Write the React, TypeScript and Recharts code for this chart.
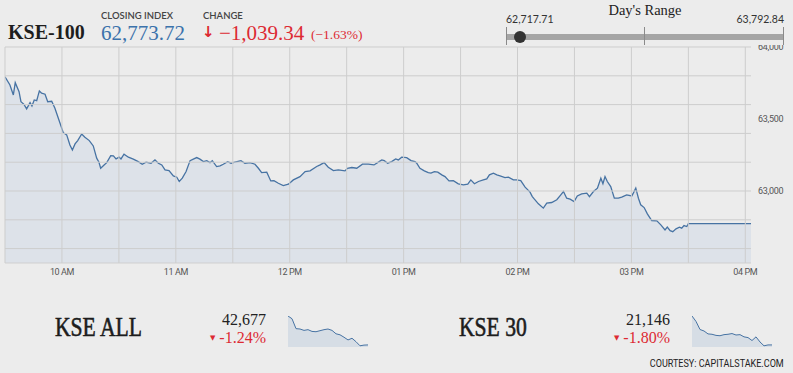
import { AreaChart, Area, XAxis, YAxis, ReferenceLine } from 'recharts';

// KSE-100 intraday, minutes after midnight
const times = [
  570, 572.6, 574.4, 575.4, 577.4, 578.4, 580, 581.4, 583.2, 584.2, 585.4, 586.7, 588.1, 589.3, 591.1, 592.5,
  594.6, 596.3, 598.1, 600.7, 602.5, 604.2, 605.5, 606.9, 608.3, 610.4, 612.1, 614.4, 616.5, 618.3, 619.5,
  620.4, 622.2, 623.6, 625.7, 627.1, 628.5, 630.1, 631.1, 632.7, 635, 637.6, 640.2, 642.3, 644.3, 646.9, 649,
  650.8, 652.6, 654.3, 656.4, 658.7, 660.5, 661.8, 663.4, 665.4, 667.5, 669.2, 671, 672.7, 674.5, 676.3, 678,
  679.2, 681.5, 683.3, 685, 687.3, 689.1, 691.1, 694.3, 696.4, 699.1, 701.7, 703.5, 705.2, 707.9, 710, 711.7,
  714, 716.6, 719.3, 721.9, 725.4, 728.1, 730.7, 734.2, 736, 738.1, 740.3, 743, 745.6, 749.1, 750.4, 752.7,
  755.3, 758.3, 761.4, 764.4, 767.1, 768.5, 769.8, 771.6, 773.7, 775.8, 777.2, 779, 781.6, 783.9, 786, 786.9,
  788.6, 790.9, 793, 794.4, 796.2, 798, 800.1, 801.8, 803.9, 806.2, 808.8, 811.5, 813.8, 815.4, 817.3, 819.4,
  822, 823.8, 825.2, 827.3, 829.1, 830.8, 833.4, 835.2, 837.8, 839.6, 841.7, 844, 846.6, 847.8, 848.9, 851,
  853.6, 855.4, 858, 860.7, 862.8, 864.2, 865.9, 867.7, 869.8, 871.5, 873.8, 876.5, 877.9, 880, 882.1, 883.9,
  885, 886.1, 887.3, 889.1, 891, 893.1, 894.9, 897.5, 900.2, 901, 902.3, 903.7, 904.9, 906.7, 908.4, 910.7,
  913.4, 915.5, 917.7, 918.9, 920.4, 921.8, 923.5, 925.3, 926.5, 927.7, 929.2, 930, 963,
];
const kse100 = [
  63792.84, 63736, 63667, 63752, 63690, 63620, 63602, 63570, 63614, 63591, 63632, 63627, 63695, 63679, 63672, 63620,
  63623, 63575, 63505, 63405, 63390, 63320, 63285, 63327, 63350, 63396, 63374, 63350, 63313, 63228, 63200,
  63158, 63181, 63197, 63246, 63244, 63223, 63235, 63223, 63256, 63235, 63221, 63204, 63186, 63200, 63193, 63216,
  63193, 63181, 63147, 63142, 63105, 63096, 63066, 63089, 63135, 63211, 63221, 63232, 63221, 63204, 63211, 63197,
  63211, 63170, 63174, 63186, 63204, 63193, 63200, 63211, 63193, 63197, 63186, 63158, 63128, 63131, 63070, 63072,
  63054, 63038, 63047, 63077, 63100, 63135, 63140, 63170, 63181, 63197, 63165, 63142, 63147, 63140, 63158, 63163,
  63158, 63186, 63186, 63181, 63204, 63216, 63211, 63193, 63204, 63223, 63216, 63235, 63232, 63211, 63204, 63193,
  63158, 63140, 63128, 63124, 63135, 63131, 63112, 63100, 63070, 63072, 63050, 63043, 63047, 63077, 63050, 63066,
  63077, 63084, 63112, 63124, 63112, 63105, 63093, 63096, 63077, 63077, 63072, 63027, 62992, 62961, 62943, 62911,
  62881, 62916, 62920, 62939, 62973, 62996, 62950, 62943, 62927, 62966, 62980, 62985, 62961, 62996, 63020, 63089,
  63050, 63100, 63066, 63031, 62950, 62950, 62957, 62973, 62966, 62985, 63020, 62950, 62904, 62885, 62841, 62795,
  62793, 62765, 62730, 62749, 62725, 62717.71, 62737, 62749, 62742, 62760, 62753, 62773.72, 62773.72,
];

const hourTicks = [600, 660, 720, 780, 840, 900, 960];
const halfHourGrid = [570, 600, 630, 660, 690, 720, 750, 780, 810, 840, 870, 900, 930, 960];
const priceTicks = [63000, 63500, 64000];
const priceGrid = [62600, 62800, 63000, 63200, 63400, 63600, 63800, 64000];

const closingIndex = 62773.72;
const change = -1039.34;
const changePct = -1.63;
const dayLow = 62717.71;
const dayHigh = 63792.84;

// sparklines (shape only)
const kseAllSpark = [43213, 43160, 42967, 42960, 42933, 42947, 42913, 42907, 42927, 42947, 42960, 42933, 42867, 42847, 42800, 42747, 42780, 42713, 42633, 42647, 42650];
const kse30Spark = [21534, 21460, 21350, 21330, 21290, 21285, 21270, 21265, 21280, 21285, 21295, 21275, 21280, 21250, 21240, 21200, 21250, 21180, 21128, 21140, 21140];

const mainData = times.map((t, i) => ({ t, v: kse100[i] }));

const fmt = (n: number, d = 0) =>
  n.toLocaleString('en-US', { minimumFractionDigits: d, maximumFractionDigits: d });

function hourLabel(t: number) {
  const h = Math.floor(t / 60);
  const h12 = h > 12 ? h - 12 : h;
  return `${String(h12).padStart(2, '0')} ${h >= 12 ? 'PM' : 'AM'}`;
}

const serif = '"Liberation Serif", "DejaVu Serif", serif';
const sans = 'Lato, "Noto Sans", sans-serif';
const red = '#dd2a33';
const blue = '#3b72ab';
const lineColor = '#4773a3';
const gridColor = '#cdcdcd';

function Spark({ values }: { values: number[] }) {
  const data = values.map((v, i) => ({ i, v }));
  return (
    <AreaChart width={80} height={31} data={data} margin={{ top: 0, right: 0, bottom: 0, left: 0 }}>
      <XAxis dataKey="i" type="number" domain={['dataMin', 'dataMax']} hide />
      <YAxis domain={[(m: number) => m - (values[0] - m) * 0.04, 'dataMax']} hide />
      <Area
        dataKey="v"
        type="linear"
        stroke={lineColor}
        strokeWidth={1}
        fill="#d6dde5"
        fillOpacity={1}
        isAnimationActive={false}
      />
    </AreaChart>
  );
}

function Stat({ name, value, pct, values, left }: { name: string; value: number; pct: number; values: number[]; left: number }) {
  return (
    <>
      <div
        style={{
          position: 'absolute', left: left, top: 312, fontFamily: serif, fontSize: 27, color: '#1d1d1d',
          transform: 'scaleX(0.8)', transformOrigin: 'left', whiteSpace: 'nowrap',
          WebkitTextStroke: '0.6px #1d1d1d',
        }}
      >
        {name}
      </div>
      <div style={{ position: 'absolute', left: left + 150, width: 61, top: 311, textAlign: 'right', fontFamily: serif, fontSize: 16, color: '#222' }}>
        {fmt(value)}
      </div>
      <div style={{ position: 'absolute', left: left + 150, width: 61, top: 329, textAlign: 'right', fontFamily: serif, fontSize: 16, color: red }}>
        {pct.toFixed(2)}%
      </div>
      <div style={{ position: 'absolute', left: left + 155, top: 334, fontSize: 7, color: red, fontFamily: 'DejaVu Sans' }}>▼</div>
      <div style={{ position: 'absolute', left: left + 233, top: 316 }}>
        <Spark values={values} />
      </div>
    </>
  );
}

export default function App() {
  const dotLeft = 506 + ((closingIndex - dayLow) / (dayHigh - dayLow)) * 278;
  return (
    <div style={{ position: 'absolute', left: 0, top: 0, width: 793, height: 373, background: '#ececec', overflow: 'hidden' }}>
      <div style={{ position: 'absolute', left: 0, top: 0 }}>
        <AreaChart width={793} height={290} data={mainData} margin={{ top: 47, right: 0, bottom: 0, left: 5 }}>
          <XAxis
            dataKey="t"
            type="number"
            domain={[570, 963]}
            allowDataOverflow
            ticks={hourTicks}
            tickFormatter={hourLabel}
            tickLine={false}
            tickSize={4}
            tickMargin={2}
            height={27}
            axisLine={{ stroke: '#cfcfcf' }}
            tick={{ fontSize: 9, fill: '#555', fontFamily: 'Roboto', letterSpacing: -0.4 }}
          />
          <YAxis
            orientation="right"
            type="number"
            domain={[62500, 64000]}
            allowDataOverflow
            ticks={priceTicks}
            tickFormatter={(v) => fmt(Number(v))}
            tickLine={false}
            axisLine={false}
            tickSize={0}
            tickMargin={7}
            width={42}
            tick={{ fontSize: 9, fill: '#555', fontFamily: 'Roboto', letterSpacing: -0.3, textAnchor: 'start' }}
          />
          {halfHourGrid.map((t) => (
            <ReferenceLine key={`x${t}`} x={t} stroke={gridColor} strokeWidth={1} />
          ))}
          {priceGrid.map((p) => (
            <ReferenceLine key={`y${p}`} y={p} stroke={gridColor} strokeWidth={1} />
          ))}
          <Area
            dataKey="v"
            type="linear"
            stroke={lineColor}
            strokeWidth={1.3}
            fill="#cbd8e6"
            fillOpacity={0.45}
            isAnimationActive={false}
          />
        </AreaChart>
      </div>

      {/* header */}
      <div style={{ position: 'absolute', left: 0, top: 0, width: 793, height: 45, background: '#ececec' }} />
      <div style={{ position: 'absolute', left: 8, top: 21, fontFamily: serif, fontWeight: 'bold', fontSize: 20, color: '#1d1d1d' }}>
        KSE-100
      </div>
      <div style={{ position: 'absolute', left: 101, top: 10, fontFamily: sans, fontSize: 9.5, color: '#444', fontWeight: 600 }}>
        CLOSING INDEX
      </div>
      <div style={{ position: 'absolute', left: 101, top: 21, fontFamily: serif, fontSize: 21, color: blue }}>
        {fmt(closingIndex, 2)}
      </div>
      <div style={{ position: 'absolute', left: 203, top: 10, fontFamily: sans, fontSize: 9.5, color: '#444', fontWeight: 600 }}>
        CHANGE
      </div>
      <div style={{ position: 'absolute', left: 202, top: 23, fontFamily: 'DejaVu Sans', fontWeight: 'bold', fontSize: 15, color: red }}>
        ↓
      </div>
      <div style={{ position: 'absolute', left: 219, top: 21, fontFamily: serif, fontSize: 21, color: red, whiteSpace: 'nowrap' }}>
        −{fmt(Math.abs(change), 2)}
      </div>
      <div style={{ position: 'absolute', left: 311, top: 27, fontFamily: serif, fontSize: 13.5, color: red, whiteSpace: 'nowrap' }}>
        (−{Math.abs(changePct).toFixed(2)}%)
      </div>

      {/* day's range */}
      <div style={{ position: 'absolute', left: 545, width: 200, top: 2, textAlign: 'center', fontFamily: serif, fontSize: 14.5, color: '#222' }}>
        Day's Range
      </div>
      <div style={{ position: 'absolute', left: 506, top: 13, fontFamily: sans, fontSize: 10.5, color: '#333' }}>
        {fmt(dayLow, 2)}
      </div>
      <div style={{ position: 'absolute', right: 9, top: 13, fontFamily: sans, fontSize: 10.5, color: '#333' }}>
        {fmt(dayHigh, 2)}
      </div>
      <div style={{ position: 'absolute', left: 506, top: 34, width: 278, height: 6, background: '#a5a5a5' }} />
      <div style={{ position: 'absolute', left: 506, top: 27, width: 1, height: 18, background: '#8a8a8a' }} />
      <div style={{ position: 'absolute', left: 644, top: 27, width: 1, height: 18, background: '#8a8a8a' }} />
      <div style={{ position: 'absolute', left: 783, top: 27, width: 1, height: 18, background: '#8a8a8a' }} />
      <div
        style={{
          position: 'absolute', left: dotLeft - 6, top: 31, width: 12, height: 12, borderRadius: 6, background: '#333',
        }}
      />

      {/* bottom summaries */}
      <Stat name="KSE ALL" value={42677} pct={-1.24} values={kseAllSpark} left={55} />
      <Stat name="KSE 30" value={21146} pct={-1.8} values={kse30Spark} left={459} />

      <div
        style={{
          position: 'absolute', right: 9, top: 357, fontFamily: 'Roboto, sans-serif', fontSize: 10.5, color: '#222',
          transform: 'scaleX(0.86)', transformOrigin: 'right', whiteSpace: 'nowrap',
        }}
      >
        COURTESY: CAPITALSTAKE.COM
      </div>
    </div>
  );
}
